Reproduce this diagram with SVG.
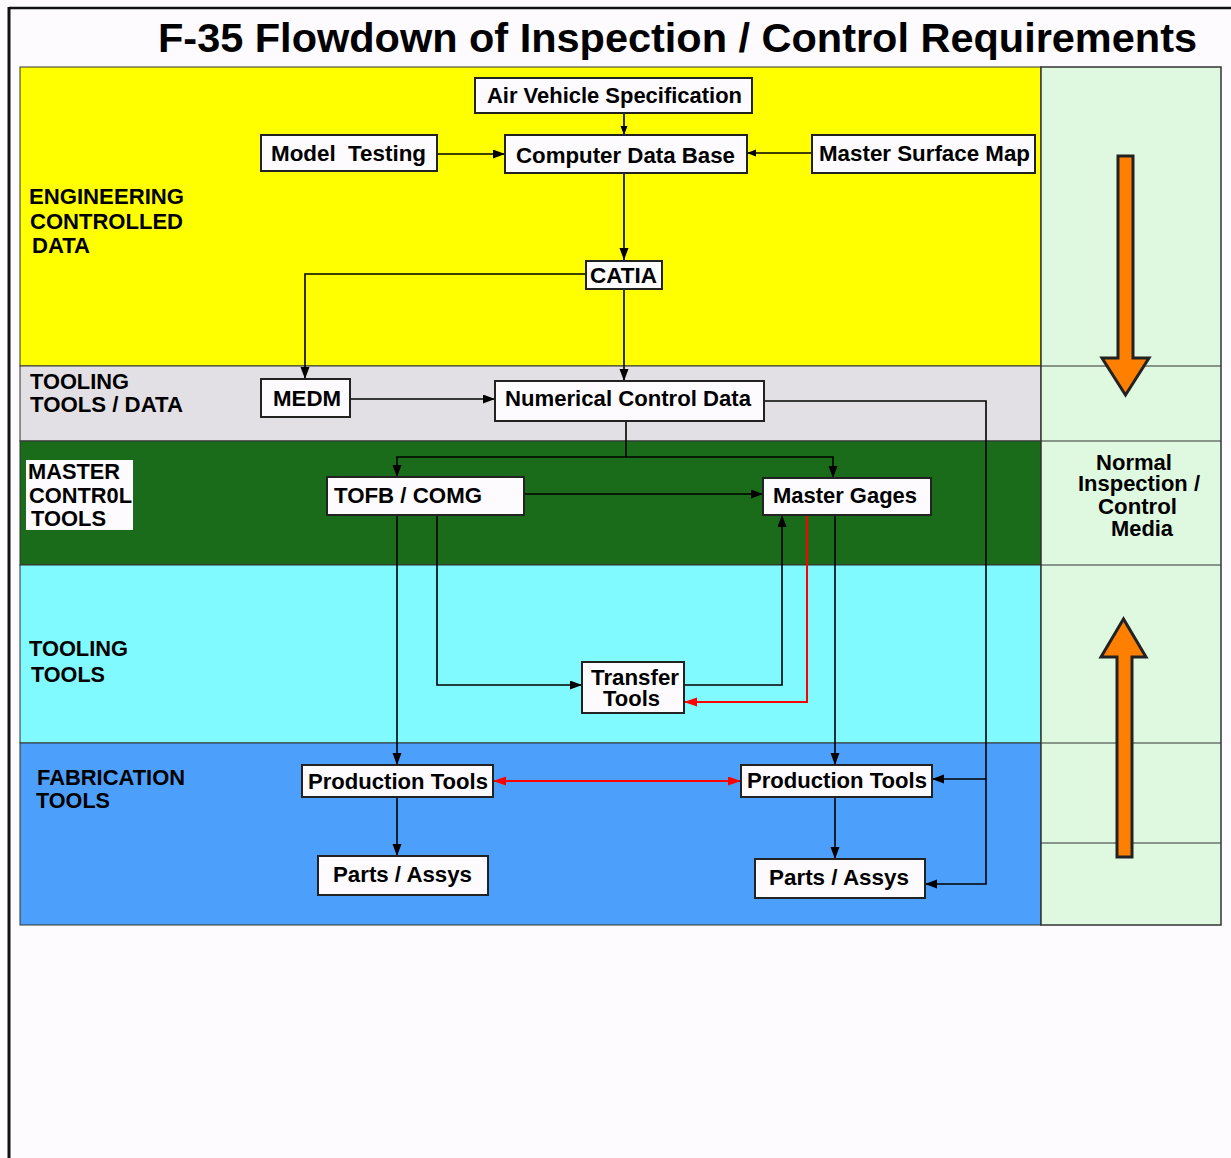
<svg xmlns="http://www.w3.org/2000/svg" width="1231" height="1158" viewBox="0 0 1231 1158">
<style>
text{font-family:"Liberation Sans",Arial,sans-serif;font-weight:bold;fill:#000}
.t{font-size:40px}
.n{font-size:22px}
.lb{font-size:22px}
.box{fill:#fdfbfe;stroke:#222;stroke-width:2}
.band{stroke:#333;stroke-width:1}
.c{fill:none;stroke:#000;stroke-width:1.6}
.r{fill:none;stroke:#f00;stroke-width:2}
.or{fill:#ff8000;stroke:#222;stroke-width:3;stroke-linejoin:miter}
</style>
<defs>
<marker id="a" markerUnits="userSpaceOnUse" markerWidth="13" markerHeight="10" refX="12" refY="4.5" orient="auto"><path d="M0,0 L12,4.5 L0,9 z" fill="#000"/></marker>
<marker id="as" markerUnits="userSpaceOnUse" markerWidth="10" markerHeight="8" refX="9" refY="3.5" orient="auto"><path d="M0,0 L9,3.5 L0,7 z" fill="#000"/></marker>
<marker id="ar" markerUnits="userSpaceOnUse" markerWidth="14" markerHeight="10" refX="13" refY="4.5" orient="auto-start-reverse"><path d="M0,0 L13,4.5 L0,9 z" fill="#f00"/></marker>
</defs>
<rect x="0" y="0" width="1231" height="1158" fill="#fdfbfe"/>
<!-- outer frame -->
<path d="M9,8 L1231,8" stroke="#111" stroke-width="2.5" fill="none"/>
<path d="M9,7 L9,1158" stroke="#111" stroke-width="3" fill="none"/>
<text class="t" x="158" y="52" textLength="1039" lengthAdjust="spacingAndGlyphs">F-35 Flowdown of Inspection / Control Requirements</text>
<!-- bands -->
<g id="bands">
<rect class="band" x="20" y="67" width="1021" height="299" fill="#ffff00"/>
<rect class="band" x="20" y="366" width="1021" height="75" fill="#e3e0e5"/>
<rect class="band" x="20" y="441" width="1021" height="124" fill="#1a6b1a"/>
<rect class="band" x="20" y="565" width="1021" height="178" fill="#80fafe"/>
<rect class="band" x="20" y="743" width="1021" height="182" fill="#4d9ffc"/>
<rect x="1041" y="67" width="180" height="858" fill="#dff8e0" stroke="#333" stroke-width="1.5"/>
<path d="M1041,366 H1221 M1041,441 H1221 M1041,565 H1221 M1041,743 H1221 M1041,843 H1221" stroke="#333" stroke-width="1.2" fill="none"/>
</g>
<!-- band labels -->
<g id="labels">
<text class="lb" x="29" y="204" textLength="155" lengthAdjust="spacingAndGlyphs">ENGINEERING</text>
<text class="lb" x="30" y="229" textLength="153" lengthAdjust="spacingAndGlyphs">CONTROLLED</text>
<text class="lb" x="32" y="253" textLength="58" lengthAdjust="spacingAndGlyphs">DATA</text>
<text class="lb" x="30" y="389" textLength="99" lengthAdjust="spacingAndGlyphs">TOOLING</text>
<text class="lb" x="30" y="412" textLength="153" lengthAdjust="spacingAndGlyphs">TOOLS / DATA</text>
<rect x="26" y="460" width="107" height="70" fill="#fdfbfe"/>
<text class="lb" x="28" y="479" textLength="92" lengthAdjust="spacingAndGlyphs">MASTER</text>
<text class="lb" x="29" y="503" textLength="103" lengthAdjust="spacingAndGlyphs">CONTR0L</text>
<text class="lb" x="31" y="526" textLength="75" lengthAdjust="spacingAndGlyphs">TOOLS</text>
<text class="lb" x="29" y="656" textLength="99" lengthAdjust="spacingAndGlyphs">TOOLING</text>
<text class="lb" x="31" y="682" textLength="74" lengthAdjust="spacingAndGlyphs">TOOLS</text>
<text class="lb" x="37" y="785" textLength="148" lengthAdjust="spacingAndGlyphs">FABRICATION</text>
<text class="lb" x="36" y="808" textLength="74" lengthAdjust="spacingAndGlyphs">TOOLS</text>
<text class="lb" x="1096" y="470" textLength="76" lengthAdjust="spacingAndGlyphs">Normal</text>
<text class="lb" x="1078" y="491" textLength="122" lengthAdjust="spacingAndGlyphs">Inspection /</text>
<text class="lb" x="1098" y="514" textLength="79" lengthAdjust="spacingAndGlyphs">Control</text>
<text class="lb" x="1111" y="536" textLength="62" lengthAdjust="spacingAndGlyphs">Media</text>
</g>
<!-- orange arrows -->
<g id="orange">
<path class="or" d="M1118,156 H1133 V358 H1149 L1125.5,395 L1102,358 H1118 Z"/>
<path class="or" d="M1117,857 H1132 V657 H1146 L1123.5,619 L1101,657 H1117 Z"/>
</g>
<!-- connectors -->
<g id="connectors">
<path class="c" d="M624,113 V135" marker-end="url(#as)"/>
<path class="c" d="M437,154 H505" marker-end="url(#a)"/>
<path class="c" d="M812,153 H747" marker-end="url(#as)"/>
<path class="c" d="M624,173 V260" marker-end="url(#a)"/>
<path class="c" d="M585,274 H305 V379" marker-end="url(#a)"/>
<path class="c" d="M624,289 V381" marker-end="url(#a)"/>
<path class="c" d="M350,399 H495" marker-end="url(#a)"/>
<path class="c" d="M626,421 V457"/>
<path class="c" d="M626,457 H397 V477" marker-end="url(#a)"/>
<path class="c" d="M626,457 H833 V478" marker-end="url(#a)"/>
<path class="c" d="M524,494 H763" marker-end="url(#a)"/>
<path class="c" d="M397,515 V765" marker-end="url(#a)"/>
<path class="c" d="M437,515 V685 H582" marker-end="url(#a)"/>
<path class="c" d="M684,685 H782 V515" marker-end="url(#a)"/>
<path class="r" d="M807,515 V702 H684" marker-end="url(#ar)"/>
<path class="c" d="M835,515 V765" marker-end="url(#a)"/>
<path class="r" d="M493,781 H741" marker-start="url(#ar)" marker-end="url(#ar)"/>
<path class="c" d="M764,401 H986 V884 H925" marker-end="url(#a)"/>
<path class="c" d="M986,779 H932" marker-end="url(#a)"/>
<path class="c" d="M397,797 V856" marker-end="url(#a)"/>
<path class="c" d="M835,797 V859" marker-end="url(#a)"/>
</g>
<!-- nodes -->
<g id="air-vehicle-spec"><rect class="box" x="475" y="78" width="277" height="35"/><text class="n" x="487" y="103" textLength="255" lengthAdjust="spacingAndGlyphs">Air Vehicle Specification</text></g>
<g id="model-testing"><rect class="box" x="261" y="135" width="176" height="36"/><text class="n" x="271" y="161" textLength="155" lengthAdjust="spacingAndGlyphs" xml:space="preserve">Model  Testing</text></g>
<g id="computer-data-base"><rect class="box" x="505" y="135" width="242" height="38"/><text class="n" x="516" y="163" textLength="219" lengthAdjust="spacingAndGlyphs">Computer Data Base</text></g>
<g id="master-surface-map"><rect class="box" x="812" y="135" width="223" height="38"/><text class="n" x="819" y="161" textLength="211" lengthAdjust="spacingAndGlyphs">Master Surface Map</text></g>
<g id="catia"><rect class="box" x="586" y="261" width="76" height="28" stroke-width="3"/><text class="n" x="590" y="283" textLength="67" lengthAdjust="spacingAndGlyphs">CATIA</text></g>
<g id="medm"><rect class="box" x="261" y="379" width="89" height="38"/><text class="n" x="273" y="406" textLength="68" lengthAdjust="spacingAndGlyphs">MEDM</text></g>
<g id="nc-data"><rect class="box" x="495" y="381" width="269" height="40"/><text class="n" x="505" y="406" textLength="246" lengthAdjust="spacingAndGlyphs">Numerical Control Data</text></g>
<g id="tofb-comg"><rect class="box" x="327" y="477" width="197" height="38"/><text class="n" x="334" y="503" textLength="148" lengthAdjust="spacingAndGlyphs">TOFB / COMG</text></g>
<g id="master-gages"><rect class="box" x="763" y="478" width="168" height="37"/><text class="n" x="773" y="503" textLength="144" lengthAdjust="spacingAndGlyphs">Master Gages</text></g>
<g id="transfer-tools"><rect class="box" x="582" y="662" width="102" height="51"/><text class="n" x="591" y="685" textLength="88" lengthAdjust="spacingAndGlyphs">Transfer</text><text class="n" x="603" y="706" textLength="57" lengthAdjust="spacingAndGlyphs">Tools</text></g>
<g id="production-tools-left"><rect class="box" x="302" y="765" width="191" height="32"/><text class="n" x="308" y="789" textLength="180" lengthAdjust="spacingAndGlyphs">Production Tools</text></g>
<g id="production-tools-right"><rect class="box" x="741" y="765" width="191" height="32"/><text class="n" x="747" y="788" textLength="180" lengthAdjust="spacingAndGlyphs">Production Tools</text></g>
<g id="parts-left"><rect class="box" x="318" y="856" width="170" height="39"/><text class="n" x="333" y="882" textLength="139" lengthAdjust="spacingAndGlyphs">Parts / Assys</text></g>
<g id="parts-right"><rect class="box" x="755" y="859" width="170" height="39"/><text class="n" x="769" y="885" textLength="140" lengthAdjust="spacingAndGlyphs">Parts / Assys</text></g>
</svg>
